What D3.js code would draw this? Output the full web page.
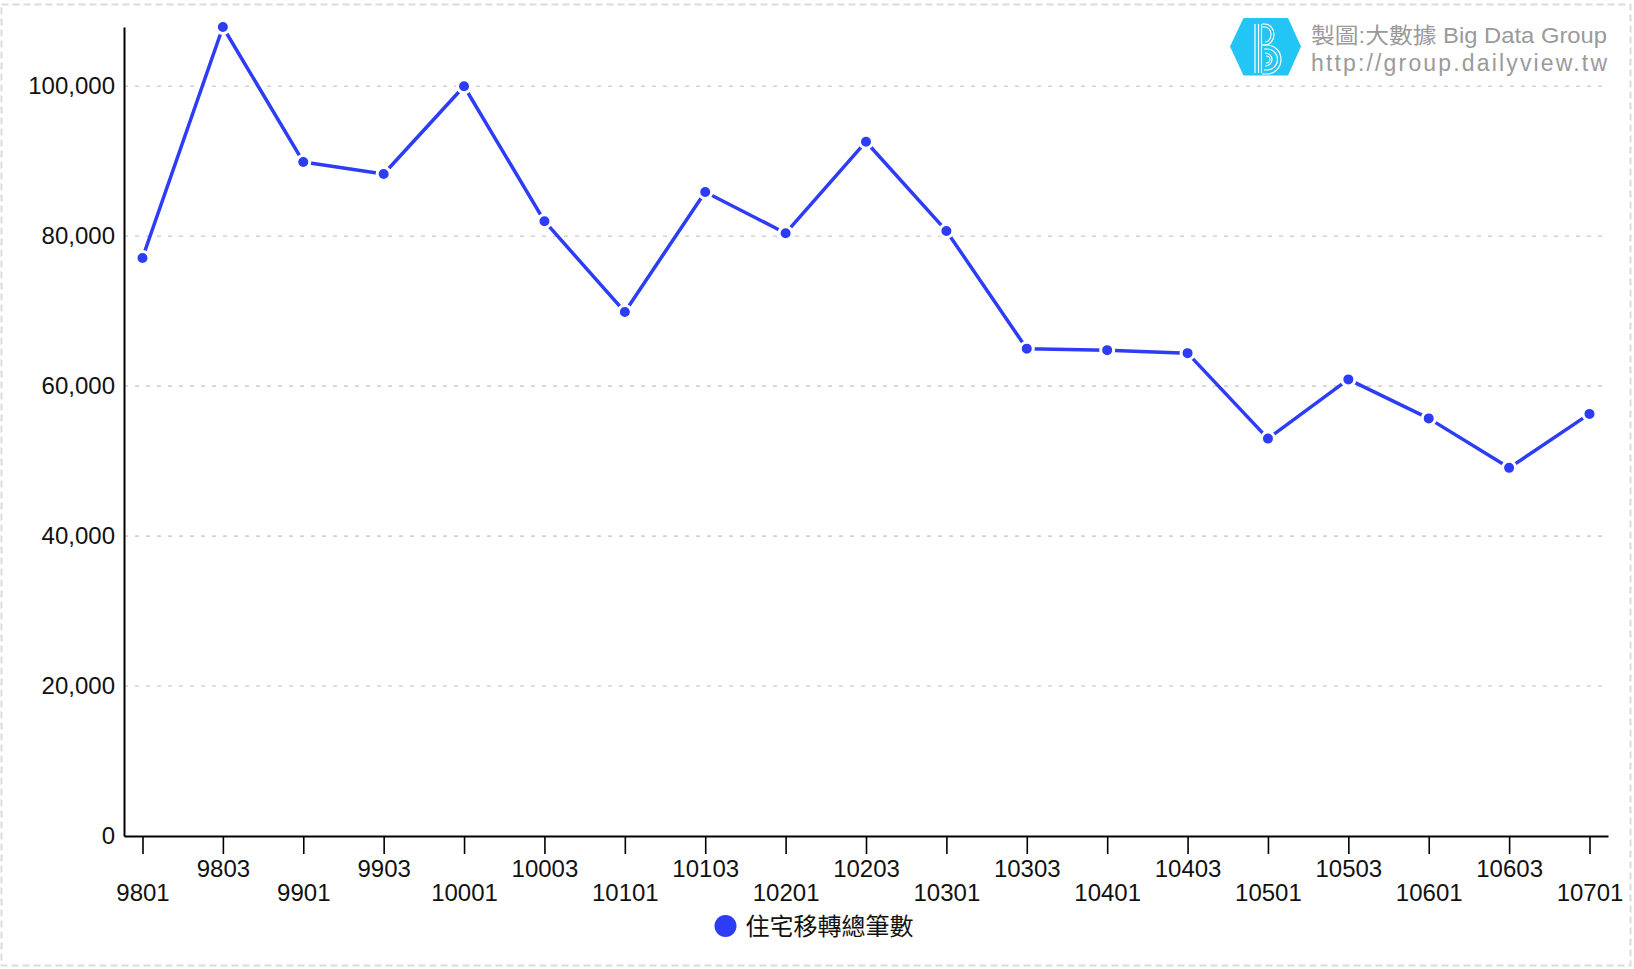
<!DOCTYPE html>
<html>
<head>
<meta charset="utf-8">
<script src="https://cdn.jsdelivr.net/npm/d3@7"></script>
<style>
  html, body { margin: 0; padding: 0; background: #fff; }
  svg { display: block; }
  text { font-family: "Liberation Sans", Arial, Helvetica, sans-serif; }
  .cjk { font-family: "Liberation Sans", "Noto Sans CJK TC", sans-serif; }
</style>
</head>
<body>
<svg id="chart" width="1634" height="969"></svg>
<script>
const months = ["9801","9803","9901","9903","10001","10003","10101","10103","10201","10203",
                "10301","10303","10401","10403","10501","10503","10601","10603","10701"];
const values = [77100,107900,89900,88300,100000,82000,69900,85900,80400,92600,
                80700,65000,64800,64400,53000,60900,55700,49100,56300];
const yTicks = [0,20000,40000,60000,80000,100000];
const seriesName = "住宅移轉總筆數";
const credit1 = "製圖:大數據 Big Data Group";
const credit2 = "http://group.dailyview.tw";

(function () {
const W = 1634, H = 969;
const mLeft = 124, mRight = 1608, mTop = 27, mBottom = 836;
const blue = "#2d3cf6";

const svg = d3.select("#chart");

// outer dashed frame
svg.append("rect").attr("x", 1.5).attr("y", 4.5).attr("width", W - 5).attr("height", H - 8)
  .attr("fill", "none").attr("stroke", "#dcdcdc").attr("stroke-width", 2).attr("stroke-dasharray", "7,4");

const x = d3.scalePoint().domain(months).range([mLeft, mRight]).padding(0.23);
const y = d3.scaleLinear().domain([0, d3.max(values)]).range([mBottom, mTop]);

// gridlines
svg.append("g").selectAll("line").data(yTicks.filter(d => d > 0)).join("line")
  .attr("x1", mLeft).attr("x2", mRight - 3)
  .attr("y1", d => y(d)).attr("y2", d => y(d))
  .attr("stroke", "#d2d2d2").attr("stroke-width", 1.6).attr("stroke-dasharray", "4,7");

// y axis
const yAxis = svg.append("g").attr("transform", `translate(${mLeft},0)`)
  .call(d3.axisLeft(y).tickValues(yTicks).tickFormat(d3.format(",")).tickSize(0).tickSizeOuter(0).tickPadding(9));
yAxis.select(".domain").attr("stroke", "#000").attr("stroke-width", 2);
yAxis.selectAll("text").attr("font-size", 24).attr("fill", "#111")
  .attr("font-family", "'Liberation Sans', Arial, sans-serif");

// x axis
const xAxis = svg.append("g").attr("transform", `translate(0,${mBottom})`)
  .call(d3.axisBottom(x).tickSize(18).tickSizeOuter(0));
xAxis.select(".domain").attr("stroke", "#000").attr("stroke-width", 2);
xAxis.selectAll(".tick line").attr("stroke", "#000").attr("stroke-width", 1.6);
xAxis.selectAll("text").attr("font-size", 24).attr("fill", "#111")
  .attr("font-family", "'Liberation Sans', Arial, sans-serif")
  .attr("dy", null).attr("dominant-baseline", "central")
  .attr("y", (d, i) => i % 2 === 1 ? 32 : 56);

// line
const line = d3.line().x((d, i) => x(months[i])).y(d => y(d));
svg.append("path").datum(values).attr("d", line)
  .attr("fill", "none").attr("stroke", blue).attr("stroke-width", 3.5).attr("stroke-linejoin", "round");

// points
svg.append("g").selectAll("circle").data(values).join("circle")
  .attr("cx", (d, i) => x(months[i])).attr("cy", d => y(d)).attr("r", 6.5)
  .attr("fill", blue).attr("stroke", "#fff").attr("stroke-width", 3);

// legend
const leg = svg.append("g");
const legText = leg.append("text").attr("class", "cjk").attr("x", 20).attr("y", 0)
  .attr("dominant-baseline", "central").attr("font-size", 24).attr("fill", "#111").text(seriesName);
leg.append("circle").attr("cx", 0).attr("cy", 0).attr("r", 11).attr("fill", blue);
const lw = 20 + legText.node().getComputedTextLength() + 11;
leg.attr("transform", `translate(${W / 2 - lw / 2 + 11 - 3},926)`);

// logo
const logo = svg.append("g");
const hx = [[1230,46.5],[1243.5,18],[1288,18],[1301,46.5],[1288,75.5],[1243.5,75.5]];
logo.append("polygon").attr("points", hx.map(p => p.join(",")).join(" ")).attr("fill", "#22c5f4");
const lg = logo.append("g").attr("fill", "none").attr("stroke", "#fff").attr("stroke-width", 1.2);
lg.append("line").attr("x1", 1255).attr("x2", 1255).attr("y1", 24).attr("y2", 73);
lg.append("line").attr("x1", 1258.5).attr("x2", 1258.5).attr("y1", 24).attr("y2", 73);
lg.append("line").attr("x1", 1261.5).attr("x2", 1261.5).attr("y1", 24).attr("y2", 73);
lg.append("path").attr("d", "M1262,24 L1265,24 A9,10.5 0 0 1 1265,45 L1262,45");
lg.append("path").attr("d", "M1262,27 L1265,27 A6,7.5 0 0 1 1265,42");
lg.append("path").attr("d", "M1262,45 L1267,45 A14,14.5 0 0 1 1267,74 L1262,74");
lg.append("path").attr("d", "M1264,49 L1267,49 A10.5,10.5 0 0 1 1267,70 L1264,70");
lg.append("path").attr("d", "M1265,53 A7,6.5 0 0 1 1265,66");
lg.append("path").attr("d", "M1266,56 A4,3.5 0 0 1 1266,63");

logo.append("text").attr("class", "cjk").attr("x", 1311).attr("y", 35)
  .attr("dominant-baseline", "central").attr("font-size", 22).attr("fill", "#9a9a9a")
  .attr("textLength", 296).attr("lengthAdjust", "spacingAndGlyphs").text(credit1);
logo.append("text").attr("x", 1311).attr("y", 63)
  .attr("dominant-baseline", "central").attr("font-size", 23).attr("fill", "#9a9a9a")
  .attr("textLength", 296).attr("lengthAdjust", "spacing").text(credit2);
})();
</script>
</body>
</html>
